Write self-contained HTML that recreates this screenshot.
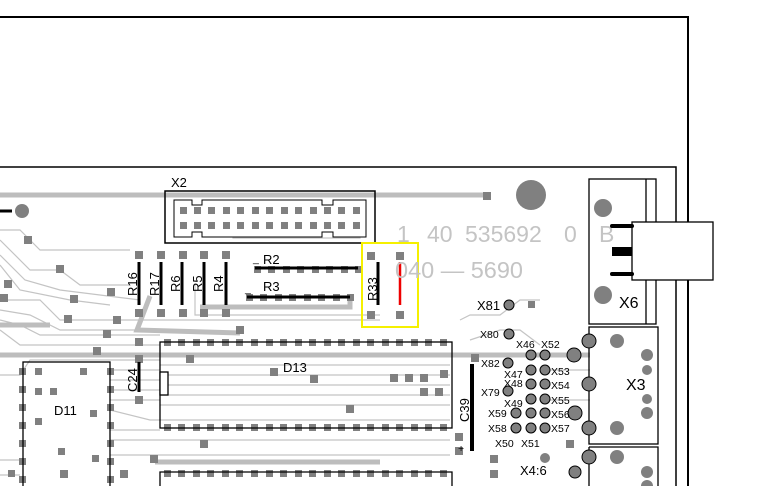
<!DOCTYPE html>
<html><head><style>body{margin:0;background:#fff}svg{display:block}</style></head><body>
<svg width="757" height="486" viewBox="0 0 757 486" xmlns="http://www.w3.org/2000/svg" font-family="Liberation Sans, sans-serif">
<rect width="757" height="486" fill="#fff"/>
<polyline points="0,17 688,17 688,486" fill="none" stroke="#000" stroke-width="2"/>
<polyline points="0,167 676,167 676,486" fill="none" stroke="#000" stroke-width="1.5"/>
<g stroke="#c4c4c4" fill="none" stroke-width="1.2">
<path d="M0,230 L20,230 L40,250 L130,250"/><path d="M0,240 L30,270 L60,270 L80,285 L130,285"/>
<path d="M0,255 L25,280 L60,290 L140,300"/><path d="M0,265 L20,290 L70,300 L110,305"/>
<path d="M0,300 L40,300 L60,320 L380,320"/><path d="M0,310 L30,315 L60,330 L150,330"/>
<path d="M0,320 L20,325 L40,335 L160,335"/><path d="M0,330 L20,345 L160,345"/>
<path d="M0,375 L20,375 L30,360 L160,360"/><path d="M110,370 L160,370"/><path d="M110,380 L160,380"/>
<path d="M110,390 L160,390"/><path d="M110,400 L160,400"/><path d="M110,410 L150,420 L450,420"/>
<path d="M110,430 L160,430"/><path d="M110,440 L450,440"/><path d="M110,455 L450,455"/>
<path d="M160,365 L450,365"/><path d="M160,375 L450,375"/><path d="M160,385 L450,385"/>
<path d="M160,395 L450,395"/><path d="M160,405 L450,405"/>
<path d="M195,283 L195,315 L380,315"/><path d="M233,206 L233,238 L360,238 L360,206"/>
<path d="M460,320 L470,315 L500,315 L520,300 L540,300"/><path d="M470,340 L500,330 L520,330 L540,345"/>
<path d="M540,355 L590,355"/><path d="M545,370 L590,370"/><path d="M545,400 L590,400"/>
<path d="M0,460 L20,460"/><path d="M0,475 L20,475"/>
</g>
<g stroke="#bdbdbd" fill="none" stroke-width="5">
<path d="M0,195 L487,195"/><path d="M0,355 L590,355"/><path d="M0,325 L50,325"/>
<path d="M150,296 L137,330 L240,333"/><path d="M155,462 L380,462"/><path d="M200,307 L350,307 L350,297"/>
</g>
<rect x="165" y="191" width="210" height="52" fill="none" stroke="#000" stroke-width="1.5"/>
<path d="M174,200 H192 V205 H202 V200 H322 V205 H333 V200 H366 V237 H333 V232 H322 V237 H202 V232 H192 V237 H174 Z" fill="#fff" stroke="#000" stroke-width="1"/>
<g fill="#808080">
<rect x="180" y="207" width="7" height="7"/><rect x="194" y="207" width="7" height="7"/><rect x="208" y="207" width="7" height="7"/><rect x="223" y="207" width="7" height="7"/><rect x="237" y="207" width="7" height="7"/><rect x="252" y="207" width="7" height="7"/><rect x="266" y="207" width="7" height="7"/><rect x="281" y="207" width="7" height="7"/><rect x="295" y="207" width="7" height="7"/><rect x="310" y="207" width="7" height="7"/><rect x="324" y="207" width="7" height="7"/><rect x="338" y="207" width="7" height="7"/><rect x="353" y="207" width="7" height="7"/>
<rect x="180" y="222" width="7" height="7"/><rect x="194" y="222" width="7" height="7"/><rect x="208" y="222" width="7" height="7"/><rect x="223" y="222" width="7" height="7"/><rect x="237" y="222" width="7" height="7"/><rect x="252" y="222" width="7" height="7"/><rect x="266" y="222" width="7" height="7"/><rect x="281" y="222" width="7" height="7"/><rect x="295" y="222" width="7" height="7"/><rect x="310" y="222" width="7" height="7"/><rect x="324" y="222" width="7" height="7"/><rect x="338" y="222" width="7" height="7"/><rect x="353" y="222" width="7" height="7"/>
<rect x="483" y="192" width="8" height="8"/>
<circle cx="531" cy="195" r="15"/><circle cx="22" cy="211" r="7"/>
<rect x="135" y="251" width="8" height="8"/><rect x="157" y="251" width="8" height="8"/><rect x="179" y="251" width="8" height="8"/><rect x="200" y="251" width="8" height="8"/><rect x="222" y="251" width="8" height="8"/>
<rect x="135" y="309" width="8" height="8"/><rect x="157" y="309" width="8" height="8"/><rect x="179" y="309" width="8" height="8"/><rect x="200" y="309" width="8" height="8"/><rect x="222" y="309" width="8" height="8"/>
<rect x="367" y="252" width="8" height="8"/><rect x="396" y="252" width="8" height="8"/><rect x="367" y="311" width="8" height="8"/><rect x="396" y="311" width="8" height="8"/>
<rect x="24" y="236" width="8" height="8"/><rect x="56" y="265" width="8" height="8"/><rect x="4" y="280" width="8" height="8"/><rect x="0" y="294" width="8" height="8"/><rect x="70" y="295" width="8" height="8"/><rect x="107" y="288" width="8" height="8"/><rect x="64" y="315" width="8" height="8"/><rect x="113" y="316" width="8" height="8"/><rect x="103" y="330" width="8" height="8"/><rect x="93" y="347" width="8" height="8"/><rect x="236" y="326" width="8" height="8"/>
<rect x="135" y="338" width="8" height="8"/><rect x="135" y="355" width="8" height="8"/><rect x="135" y="396" width="8" height="8"/><rect x="186" y="355" width="8" height="8"/>
<rect x="270" y="368" width="8" height="8"/><rect x="310" y="375" width="8" height="8"/><rect x="346" y="405" width="8" height="8"/><rect x="390" y="374" width="8" height="8"/><rect x="405" y="374" width="8" height="8"/><rect x="420" y="374" width="8" height="8"/><rect x="420" y="388" width="8" height="8"/><rect x="435" y="388" width="8" height="8"/><rect x="440" y="370" width="8" height="8"/><rect x="200" y="440" width="8" height="8"/><rect x="150" y="455" width="8" height="8"/><rect x="455" y="433" width="8" height="8"/><rect x="455" y="447" width="8" height="8"/><rect x="490" y="455" width="8" height="8"/><rect x="490" y="470" width="8" height="8"/><rect x="566" y="440" width="8" height="8"/><rect x="528" y="301" width="7" height="7"/><rect x="471" y="354" width="8" height="8"/><rect x="120" y="470" width="8" height="8"/><rect x="60" y="470" width="8" height="8"/>
<rect x="19" y="368" width="7" height="7"/><rect x="19" y="386" width="7" height="7"/><rect x="19" y="404" width="7" height="7"/><rect x="19" y="422" width="7" height="7"/><rect x="19" y="440" width="7" height="7"/><rect x="19" y="458" width="7" height="7"/><rect x="19" y="476" width="7" height="7"/>
<rect x="107" y="368" width="7" height="7"/><rect x="107" y="386" width="7" height="7"/><rect x="107" y="404" width="7" height="7"/><rect x="107" y="422" width="7" height="7"/><rect x="107" y="440" width="7" height="7"/><rect x="107" y="458" width="7" height="7"/><rect x="107" y="476" width="7" height="7"/>
<rect x="35" y="368" width="7" height="7"/><rect x="80" y="368" width="7" height="7"/><rect x="35" y="388" width="7" height="7"/><rect x="50" y="388" width="7" height="7"/><rect x="90" y="410" width="7" height="7"/><rect x="35" y="418" width="7" height="7"/><rect x="58" y="448" width="7" height="7"/><rect x="92" y="455" width="7" height="7"/><rect x="8" y="470" width="7" height="7"/>
</g>
<g fill="#808080">
<path d="M164,339 h7 v7 h-7z M178,339 h7 v7 h-7z M193,339 h7 v7 h-7z M207,339 h7 v7 h-7z M222,339 h7 v7 h-7z M236,339 h7 v7 h-7z M251,339 h7 v7 h-7z M266,339 h7 v7 h-7z M280,339 h7 v7 h-7z M295,339 h7 v7 h-7z M309,339 h7 v7 h-7z M324,339 h7 v7 h-7z M338,339 h7 v7 h-7z M353,339 h7 v7 h-7z M367,339 h7 v7 h-7z M382,339 h7 v7 h-7z M396,339 h7 v7 h-7z M411,339 h7 v7 h-7z M425,339 h7 v7 h-7z M440,339 h7 v7 h-7z"/>
<path d="M164,424 h7 v7 h-7z M178,424 h7 v7 h-7z M193,424 h7 v7 h-7z M207,424 h7 v7 h-7z M222,424 h7 v7 h-7z M236,424 h7 v7 h-7z M251,424 h7 v7 h-7z M266,424 h7 v7 h-7z M280,424 h7 v7 h-7z M295,424 h7 v7 h-7z M309,424 h7 v7 h-7z M324,424 h7 v7 h-7z M338,424 h7 v7 h-7z M353,424 h7 v7 h-7z M367,424 h7 v7 h-7z M382,424 h7 v7 h-7z M396,424 h7 v7 h-7z M411,424 h7 v7 h-7z M425,424 h7 v7 h-7z M440,424 h7 v7 h-7z"/>
<path d="M164,470 h7 v7 h-7z M178,470 h7 v7 h-7z M193,470 h7 v7 h-7z M207,470 h7 v7 h-7z M222,470 h7 v7 h-7z M236,470 h7 v7 h-7z M251,470 h7 v7 h-7z M266,470 h7 v7 h-7z M280,470 h7 v7 h-7z M295,470 h7 v7 h-7z M309,470 h7 v7 h-7z M324,470 h7 v7 h-7z M338,470 h7 v7 h-7z M353,470 h7 v7 h-7z M367,470 h7 v7 h-7z M382,470 h7 v7 h-7z M396,470 h7 v7 h-7z M411,470 h7 v7 h-7z M425,470 h7 v7 h-7z M440,470 h7 v7 h-7z"/>
<path d="M254,266 h7 v7 h-7z M268,266 h7 v7 h-7z M283,266 h7 v7 h-7z M297,266 h7 v7 h-7z M312,266 h7 v7 h-7z M326,266 h7 v7 h-7z M341,266 h7 v7 h-7z M355,266 h7 v7 h-7z"/>
<path d="M246,294 h7 v7 h-7z M260,294 h7 v7 h-7z M275,294 h7 v7 h-7z M289,294 h7 v7 h-7z M304,294 h7 v7 h-7z M318,294 h7 v7 h-7z M333,294 h7 v7 h-7z M347,294 h7 v7 h-7z"/>
</g>
<g fill="none" stroke="#000" stroke-width="1.3">
<rect x="160" y="342" width="292" height="86"/>
<rect x="160" y="372" width="8" height="23" fill="#fff"/>
<path d="M160,486 V472 H452 V486"/>
<rect x="23" y="362" width="87" height="130"/>
</g>
<g stroke="#000" stroke-width="3" fill="none">
<path d="M0,211 H12"/>
<path d="M139,262 V305"/><path d="M161,262 V305"/><path d="M182,262 V305"/><path d="M204,262 V305"/><path d="M226,262 V305"/>
<path d="M255,268 H358"/><path d="M247,297 H350"/><path d="M378,262 V305"/>
<path d="M139,362 V392"/><path d="M472,364 V451" stroke-width="4"/>
</g>
<path d="M400,262 V305" stroke="#e00" stroke-width="2.5"/>
<rect x="362" y="243" width="56" height="84" fill="none" stroke="#f5f000" stroke-width="2"/>
<g fill="#c4c4c4" font-size="23">
<text x="397" y="242">1</text><text x="427" y="242">40</text><text x="465" y="242">535692</text><text x="564" y="242">0</text><text x="599" y="242">B</text>
<text x="395" y="278" textLength="128" lengthAdjust="spacingAndGlyphs">040 — 5690</text>
</g>
<g fill="none" stroke="#000" stroke-width="1.3">
<rect x="589" y="179" width="67" height="145"/>
<path d="M646,179 V324"/>
<rect x="632" y="222" width="81" height="58" fill="#fff"/>
<rect x="589" y="327" width="69" height="117"/>
<path d="M589,447 H658 V486 M589,447 V486"/>
</g>
<g stroke="#000" stroke-width="4" stroke-linecap="round"><path d="M612,226 H632"/><path d="M612,274 H632"/></g>
<rect x="612" y="247" width="20" height="9" fill="#000"/>
<g fill="#808080">
<circle cx="603" cy="208" r="9"/><circle cx="603" cy="295" r="9"/>
<circle cx="617" cy="341" r="7"/><circle cx="617" cy="428" r="7"/><circle cx="617" cy="457" r="7"/>
<circle cx="647" cy="355" r="6"/><circle cx="647" cy="370" r="5"/><circle cx="647" cy="399" r="5"/><circle cx="647" cy="413" r="6"/><circle cx="647" cy="472" r="6"/><circle cx="647" cy="486" r="6"/>
<circle cx="589" cy="341" r="7" stroke="#000"/><circle cx="589" cy="384" r="7" stroke="#000"/><circle cx="589" cy="428" r="7" stroke="#000"/><circle cx="589" cy="457" r="7" stroke="#000"/>
<circle cx="574" cy="355" r="7" stroke="#000"/><circle cx="575" cy="413" r="7" stroke="#000"/><circle cx="575" cy="472" r="6" stroke="#000"/><circle cx="545" cy="458" r="5"/>
</g>
<g fill="#808080" stroke="#000" stroke-width="1">
<circle cx="509" cy="305" r="5"/><circle cx="509" cy="334" r="5"/><circle cx="508" cy="363" r="5"/><circle cx="508" cy="391" r="5"/>
<circle cx="531" cy="355" r="5"/><circle cx="545" cy="355" r="5"/><circle cx="531" cy="370" r="5"/><circle cx="545" cy="370" r="5"/>
<circle cx="531" cy="384" r="5"/><circle cx="545" cy="384" r="5"/><circle cx="531" cy="399" r="5"/><circle cx="545" cy="399" r="5"/>
<circle cx="531" cy="413" r="5"/><circle cx="545" cy="413" r="5"/><circle cx="531" cy="428" r="5"/><circle cx="545" cy="428" r="5"/>
<circle cx="516" cy="413" r="5"/><circle cx="516" cy="428" r="5"/>
</g>
<g fill="#000" font-size="13">
<text x="171" y="187">X2</text>
<text x="263" y="264">R2</text><text x="263" y="291">R3</text>
<text x="283" y="372">D13</text><text x="54" y="415">D11</text>
<text x="619" y="308" font-size="16">X6</text><text x="626" y="390" font-size="16">X3</text>
<text x="477" y="310">X81</text>
<text transform="translate(137,296) rotate(-90)">R16</text>
<text transform="translate(159,296) rotate(-90)">R17</text>
<text transform="translate(180,292) rotate(-90)">R6</text>
<text transform="translate(202,292) rotate(-90)">R5</text>
<text transform="translate(223,292) rotate(-90)">R4</text>
<text transform="translate(377,301) rotate(-90)">R33</text>
<text transform="translate(137,392) rotate(-90)">C24</text>
<text transform="translate(469,422) rotate(-90)">C39</text>
</g>
<g fill="#000" font-size="10.5">
<text x="480" y="338">X80</text><text x="481" y="367">X82</text><text x="481" y="396">X79</text>
<text x="516" y="348">X46</text><text x="541" y="348">X52</text>
<text x="504" y="378">X47</text><text x="504" y="387">X48</text><text x="504" y="407">X49</text>
<text x="551" y="375">X53</text><text x="551" y="389">X54</text><text x="551" y="404">X55</text><text x="551" y="418">X56</text><text x="551" y="432">X57</text>
<text x="488" y="417">X59</text><text x="488" y="432">X58</text>
<text x="495" y="447">X50</text><text x="521" y="447">X51</text>
<text x="520" y="475" font-size="13">X4:6</text>
<text x="458" y="452">+</text>
<text x="253" y="262">_</text><text x="245" y="292">_</text>
</g>
</svg>
</body></html>
